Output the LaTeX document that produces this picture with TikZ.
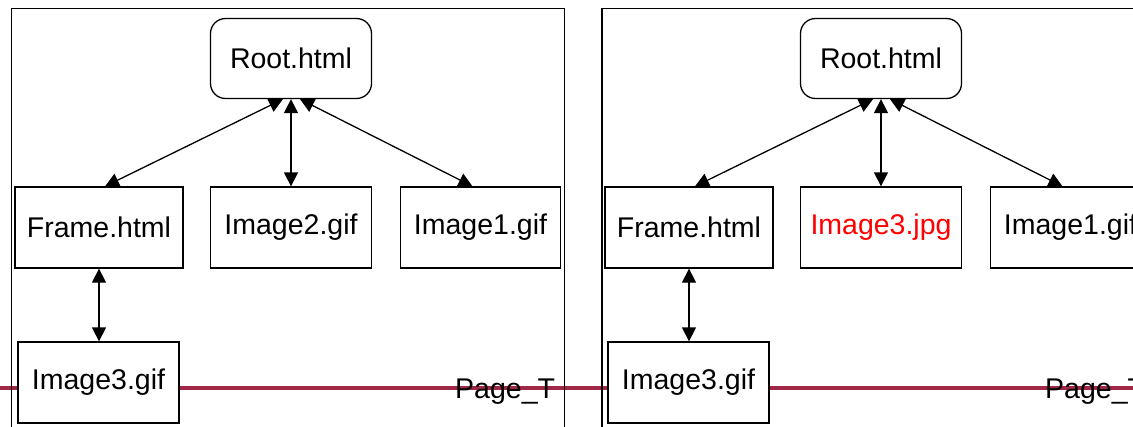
\documentclass[tikz,border=0pt]{standalone}
\usepackage{fontspec}
\setmainfont{Liberation Sans}
\usetikzlibrary{arrows.meta}
\definecolor{pageline}{RGB}{160,40,70}
\definecolor{alertred}{RGB}{255,0,0}
\tikzset{
  filebox/.style={draw=black, line width=1.3pt, fill=white, minimum width=161pt, minimum height=81pt, inner sep=0pt, font=\fontsize{28.5}{33}\selectfont},
  rootbox/.style={filebox, rounded corners=15pt, minimum height=80pt},
  link/.style={line width=1.3pt, {Triangle[length=14pt,width=14pt]}-{Triangle[length=14pt,width=14pt]}},
  panelframe/.style={draw=black, line width=1.3pt},
  pageline/.style={draw=pageline, line width=4pt},
  pagelabel/.style={anchor=base west, inner sep=0pt, font=\fontsize{28.5}{33}\selectfont}
}
\begin{document}
\begin{tikzpicture}[x=1pt, y=-1pt]
\useasboundingbox (0,0) rectangle (1133,426);
\clip (0,0) rectangle (1133,426);
% Page line across the whole picture
\coordinate (lineL) at (0,388);
\coordinate (lineR) at (1133,388);
\draw[pageline] (lineL) -- (lineR);
% ---------- left panel ----------
\draw[panelframe] (11.5,440) -- (11.5,8.5) -- (564.5,8.5) -- (564.5,440);
\node[rootbox] (Lroot) at (291,58.5) {Root.html};
\node[filebox, minimum width=168pt] (Lframe) at (99,227.5) {Frame.html};
\node[filebox] (Limg2) at (291,227.5) {Image2.gif};
\node[filebox, minimum width=160pt] (Limg1) at (480.5,227.5) {Image1.gif};
\node[filebox] (Limg3) at (98.5,382.5) {Image3.gif};
\draw[link] ([xshift=-8pt]Lroot.south) -- ([xshift=6pt]Lframe.north);
\draw[link] (Lroot.south) -- (Limg2.north);
\draw[link] ([xshift=9pt]Lroot.south) -- ([xshift=-8pt]Limg1.north);
\draw[link] (Lframe.south) -- (Lframe.south |- Limg3.north);
\node[pagelabel] (Lpage) at (455,398) {Page\_T};
% ---------- right panel ----------
\begin{scope}[xshift=590pt]
\draw[panelframe] (12,440) -- (12,8.5) -- (600,8.5);
\node[rootbox] (Rroot) at (291,58.5) {Root.html};
\node[filebox, minimum width=168pt] (Rframe) at (99,227.5) {Frame.html};
\node[filebox, text=alertred] (Rimg3j) at (291,227.5) {Image3.jpg};
\node[filebox, minimum width=160pt] (Rimg1) at (480.5,227.5) {Image1.gif};
\node[filebox] (Rimg3) at (98.5,382.5) {Image3.gif};
\draw[link] ([xshift=-8pt]Rroot.south) -- ([xshift=6pt]Rframe.north);
\draw[link] (Rroot.south) -- (Rimg3j.north);
\draw[link] ([xshift=9pt]Rroot.south) -- ([xshift=-8pt]Rimg1.north);
\draw[link] (Rframe.south) -- (Rframe.south |- Rimg3.north);
\node[pagelabel] (Rpage) at (455,398) {Page\_T};
\end{scope}
\end{tikzpicture}
\end{document}
